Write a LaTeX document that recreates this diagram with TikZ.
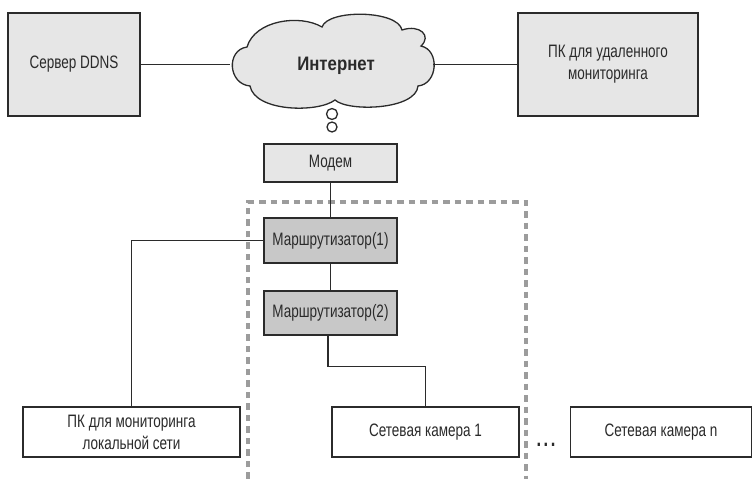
\documentclass[tikz,border=0pt]{standalone}
\usepackage{fontspec}
\setmainfont{Liberation Sans}[FakeStretch=0.75]
\newfontfamily\cloudfont{Liberation Sans}[FakeStretch=0.86]
\definecolor{linec}{HTML}{2B2B2B}
\definecolor{textc}{HTML}{2A2A2A}
\definecolor{lightfill}{HTML}{E6E6E6}
\definecolor{routerfill}{HTML}{C8C8C8}
\definecolor{zonec}{HTML}{9C9C9C}
\begin{document}
\begin{tikzpicture}[x=1pt,y=-1pt,
  box/.style={draw=linec, line width=1.3pt, inner sep=0pt, align=center,
    text=textc, font=\fontsize{18}{22}\selectfont},
  graybox/.style={box, fill=lightfill},
  routerbox/.style={box, fill=routerfill},
  whitebox/.style={box, fill=white},
  link/.style={draw=linec, line width=1.3pt},
  bubble/.style={circle, draw=linec, line width=1.3pt, fill=white, inner sep=0pt},
  zone/.style={draw=zonec, line width=3.2pt, dash pattern=on 6.5pt off 5pt}
]
\useasboundingbox (0,0) rectangle (752,479);

% local network zone
\draw[zone] (248,490) -- (248,202) -- (526,202) -- (526,490);

% Internet cloud
\draw[fill=lightfill, draw=linec, line width=1.3pt]
  (250,86) .. controls (228,84) and (226,50) .. (247,47)
  .. controls (255,20) and (300,14) .. (322,27)
  .. controls (328,9) and (398,10) .. (402,30)
  .. controls (420,24) and (432,36) .. (421,46)
  .. controls (440,50) and (438,84) .. (418,86)
  .. controls (416,110) and (348,112) .. (335,100)
  .. controls (318,113) and (255,112) .. (250,86) -- cycle;
\node[font=\cloudfont\bfseries\fontsize{19.5}{22}\selectfont, text=textc] (inet) at (336,66) {Интернет};
\coordinate (cw) at (230,64.5);
\coordinate (ce) at (433,64.5);
\node[bubble, minimum size=11pt] (b1) at (332,114) {};
\node[bubble, minimum size=10pt] (b2) at (332,127) {};

% devices
\node[graybox, minimum width=132pt, minimum height=103pt] (ddns) at (74,64.5) {Сервер DDNS};
\node[graybox, minimum width=180pt, minimum height=103pt] (remote) at (608,64.5) {ПК для удаленного\\мониторинга};
\node[graybox, minimum width=133pt, minimum height=38pt] (modem) at (330.5,163) {Модем};
\node[routerbox, minimum width=133pt, minimum height=45pt] (r1) at (330.5,240.5) {Маршрутизатор(1)};
\node[routerbox, minimum width=133pt, minimum height=44pt] (r2) at (330.5,313) {Маршрутизатор(2)};
\node[whitebox, minimum width=217pt, minimum height=50pt] (pcl) at (131.5,432) {ПК для мониторинга\\локальной сети};
\node[whitebox, minimum width=187pt, minimum height=50pt] (cam1) at (425.5,432) {Сетевая камера 1};
\node[whitebox, minimum width=181pt, minimum height=50pt] (camn) at (661,432) {Сетевая камера n};
\node[text=textc, font=\bfseries\fontsize{22}{24}\selectfont, anchor=base] (dots) at (546,446) {.\hspace{2.5pt}.\hspace{2.5pt}.};

% connections
\draw[link] (ddns.east) -- (cw);
\draw[link] (ce) -- (remote.west);
\draw[link] (modem.south) -- (r1.north);
\draw[link] (r1.south) -- (r2.south |- r2.north);
\draw[link] (r1.west) -| (pcl.north);
\draw[link] ([xshift=-2.5pt]r2.south) |- ++(0,31) -| (cam1.north);
\end{tikzpicture}
\end{document}
